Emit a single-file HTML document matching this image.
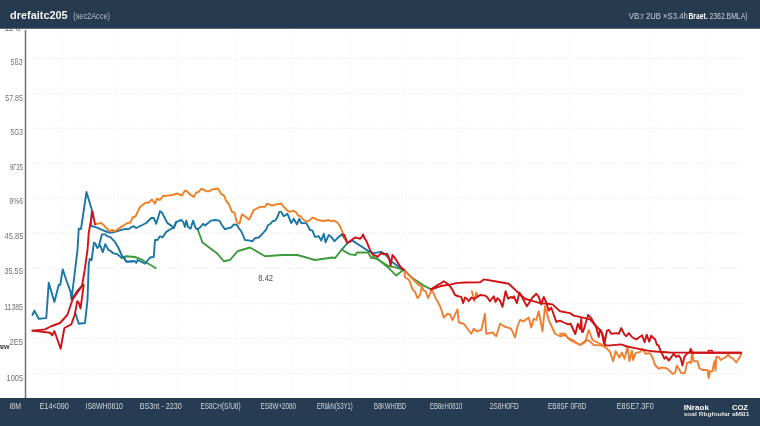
<!DOCTYPE html>
<html><head><meta charset="utf-8"><style>
html,body{margin:0;padding:0;background:#fff;width:760px;height:426px;overflow:hidden}
svg{display:block;will-change:transform}
text{font-family:"Liberation Sans",sans-serif}
.yl{font-size:8.8px;fill:#707070}
.xl{font-size:8.6px;fill:#d0d5da}
.t1{font-size:11.5px;font-weight:bold;fill:#f2f2f2}
.t2{font-size:9px;fill:#b8bec6}
.t3{font-size:8.5px;fill:#c9ced4}
.t3b{font-size:8.5px;font-weight:bold;fill:#ffffff}
.f1{font-size:8px;font-weight:bold;fill:#ffffff}
.f2{font-size:6px;font-weight:bold;fill:#e0e0e0}
.bw{font-size:6.5px;font-weight:bold;fill:#3a3a3a}
.lab{font-size:9.8px;fill:#4a4a4a}
</style></head><body>
<svg width="760" height="426" viewBox="0 0 760 426">
<rect x="0" y="0" width="760" height="426" fill="#ffffff"/>
<line x1="27" y1="58.7" x2="742" y2="58.7" stroke="#dadada" stroke-width="0.8" stroke-dasharray="1,2"/><line x1="27" y1="93.5" x2="742" y2="93.5" stroke="#dadada" stroke-width="0.8" stroke-dasharray="1,2"/><line x1="27" y1="128.3" x2="742" y2="128.3" stroke="#dadada" stroke-width="0.8" stroke-dasharray="1,2"/><line x1="27" y1="163" x2="742" y2="163" stroke="#dadada" stroke-width="0.8" stroke-dasharray="1,2"/><line x1="27" y1="198" x2="742" y2="198" stroke="#dadada" stroke-width="0.8" stroke-dasharray="1,2"/><line x1="27" y1="233" x2="742" y2="233" stroke="#dadada" stroke-width="0.8" stroke-dasharray="1,2"/><line x1="27" y1="268.5" x2="742" y2="268.5" stroke="#dadada" stroke-width="0.8" stroke-dasharray="1,2"/><line x1="27" y1="303.75" x2="742" y2="303.75" stroke="#dadada" stroke-width="0.8" stroke-dasharray="1,2"/><line x1="27" y1="338.5" x2="742" y2="338.5" stroke="#dadada" stroke-width="0.8" stroke-dasharray="1,2"/><line x1="27" y1="373.5" x2="742" y2="373.5" stroke="#dadada" stroke-width="0.8" stroke-dasharray="1,2"/><line x1="62.5" y1="28" x2="62.5" y2="398" stroke="#f0f0f0" stroke-width="0.8" stroke-dasharray="1,2"/><line x1="117.5" y1="28" x2="117.5" y2="398" stroke="#f0f0f0" stroke-width="0.8" stroke-dasharray="1,2"/><line x1="177.5" y1="28" x2="177.5" y2="398" stroke="#f0f0f0" stroke-width="0.8" stroke-dasharray="1,2"/><line x1="236" y1="28" x2="236" y2="398" stroke="#f0f0f0" stroke-width="0.8" stroke-dasharray="1,2"/><line x1="292.5" y1="28" x2="292.5" y2="398" stroke="#f0f0f0" stroke-width="0.8" stroke-dasharray="1,2"/><line x1="350" y1="28" x2="350" y2="398" stroke="#f0f0f0" stroke-width="0.8" stroke-dasharray="1,2"/><line x1="402.5" y1="28" x2="402.5" y2="398" stroke="#f0f0f0" stroke-width="0.8" stroke-dasharray="1,2"/><line x1="457.5" y1="28" x2="457.5" y2="398" stroke="#f0f0f0" stroke-width="0.8" stroke-dasharray="1,2"/><line x1="513" y1="28" x2="513" y2="398" stroke="#f0f0f0" stroke-width="0.8" stroke-dasharray="1,2"/><line x1="569.5" y1="28" x2="569.5" y2="398" stroke="#f0f0f0" stroke-width="0.8" stroke-dasharray="1,2"/><line x1="649.5" y1="28" x2="649.5" y2="398" stroke="#f0f0f0" stroke-width="0.8" stroke-dasharray="1,2"/><line x1="705.5" y1="28" x2="705.5" y2="398" stroke="#f0f0f0" stroke-width="0.8" stroke-dasharray="1,2"/>
<line x1="25.5" y1="30" x2="25.5" y2="398" stroke="#707070" stroke-width="1.5"/><text x="4.5" y="31" class="yl" textLength="16" lengthAdjust="spacingAndGlyphs">11  o</text>
<text x="10.6" y="64.8" textLength="12.000000000000002" lengthAdjust="spacingAndGlyphs" class="yl">5ß3</text><text x="5.3" y="100.7" textLength="17.5" lengthAdjust="spacingAndGlyphs" class="yl">57.85</text><text x="10.6" y="134.6" textLength="12.200000000000001" lengthAdjust="spacingAndGlyphs" class="yl">5G3</text><text x="9.9" y="169.9" textLength="13.1" lengthAdjust="spacingAndGlyphs" class="yl">9Γ25</text><text x="9.4" y="203.9" textLength="13.6" lengthAdjust="spacingAndGlyphs" class="yl">9%6</text><text x="4.6" y="239.4" textLength="18.700000000000003" lengthAdjust="spacingAndGlyphs" class="yl">45.85</text><text x="4.6" y="274.3" textLength="18.700000000000003" lengthAdjust="spacingAndGlyphs" class="yl">35.5S</text><text x="4.2" y="310" textLength="18.8" lengthAdjust="spacingAndGlyphs" class="yl">11385</text><text x="9.4" y="345" textLength="13.6" lengthAdjust="spacingAndGlyphs" class="yl">2E5</text><text x="6.6" y="380.6" textLength="16.4" lengthAdjust="spacingAndGlyphs" class="yl">1005</text>
<text x="0" y="348.6" textLength="9.4" lengthAdjust="spacingAndGlyphs" class="bw">ɐw</text>
<text x="258.3" y="281" textLength="14.8" lengthAdjust="spacingAndGlyphs" class="lab">8.42</text>
<polyline points="121.25,258 126.25,256.25 135,257 141.25,259.4 146.25,262.5 155.6,268" fill="none" stroke="#3d9b3d" stroke-width="1.9" stroke-linejoin="round" stroke-linecap="round" opacity="1.0"/><polyline points="197.5,228.75 202.5,242.5 217.5,253.75 223.75,261.25 230,260 237.5,251.25 250,247.5 265,256.25 282.5,255 297.5,255 315,260 332.5,257.5 335,258.1 341.9,249.4 344.4,251.25 350,254.4 355.6,255 356.9,252.5 368.1,252.5 371.25,258.1 373.1,258.1 377.5,258.75 387.5,266.9 396.25,275.6 403.75,269.4 412.5,278.1 423.75,285.6 431.25,289.4" fill="none" stroke="#3d9b3d" stroke-width="1.9" stroke-linejoin="round" stroke-linecap="round" opacity="1.0"/><polyline points="372.5,256.25 388.75,266.25 393.75,266.9 400,268.75 403.75,269.4" fill="none" stroke="#3d9b3d" stroke-width="1.9" stroke-linejoin="round" stroke-linecap="round" opacity="1.0"/><polyline points="341.9,249.4 347.5,243.1" fill="none" stroke="#2f8a6a" stroke-width="1.9" stroke-linejoin="round" stroke-linecap="round" opacity="1.0"/><polyline points="99.1,244.7 101.9,234.4 105.2,234.4 107.5,236.3 110.4,237.2 115,241.9 118.3,247.5 121.6,255 124.4,258.8 126.3,261.6 133,261.2" fill="none" stroke="#1a76a4" stroke-width="1.9" stroke-linejoin="round" stroke-linecap="round" opacity="1.0"/><polyline points="75.5,313.5 78.75,323.75 85,323 87.5,300 88.75,264.4 89.7,258.8 91.6,260.2 93.9,242.8 95.3,243.3 97.2,248 100,245.2 102.8,252.2 105.2,244.2 108.5,249.9 110.4,250.8 113.2,253.2 116.9,254.1 120.7,256.9 124.4,257.4 125,260 127.5,261.9 132.5,261.25 135,261.25 136.25,263 137.5,260 145,263.75 150,257.5 153.75,257 155,240 157.5,240 160,236.25 162.5,237.5 166.25,231.9 171.25,228.75 173.75,227.5 176.25,221.9" fill="none" stroke="#1a76a4" stroke-width="1.9" stroke-linejoin="round" stroke-linecap="round" opacity="1.0"/><polyline points="32.5,315 34.4,310.6 38.75,318.75 46.25,318.1 48.75,282.75 54.4,301.9 58.75,285 60.25,284.75 62.75,269.4 66.25,280 70.6,291.9 71.5,299.4 77.5,250 78.75,228.75 81,229 86.5,192 91.9,210 90.75,225.75 96.3,227.3 103.8,230.6 108.5,232.5 112.2,232.5 116,231.6 120.7,230.2 124.4,229.2 129.1,228.8 132,226.9 133.75,226.25 136.25,228 146.25,223 151.25,218 153.75,218 156.25,223.75 160,211.25 161.9,212.5 167.5,223.1 171.25,225.6 173.75,228.1 176.25,221.9 181.25,220 183.1,221.9 185,226.9 186.25,220.6 188.1,226.9 190.6,228.75 193.1,220.6 195.6,228.1 197.5,229.4 200,227.5 203.1,223.75 205,225.6 208.1,223.1 211.25,220.6 215,220 219.4,220.6 221.9,225 225,229.4 228.1,228.1 231.25,227.5 233.75,224.4 236.9,225 238.75,228.1 241.25,231.25 245,240 250,240.6 252.5,241.25 255,238.1 258.75,237.5 262.5,233.75 266.25,229.4 268.1,225 270.6,223.75 272.5,221.25 275,220.6 276.9,218.1 279.4,211.9 281.25,211.9 283.75,216.25 287.5,213.75 291.25,223.1 293.75,218.75 296.9,224.4 299.4,218.75 301.25,223.1 306.25,223.1 310,230 312.5,230.6 315,236.9 318.75,236.25 321.25,240.6 323.75,233.75 325.6,242.5 328.75,235 331.25,236.9 334.4,241.25 337.5,238.1 341.9,234.4 347.5,243 352.5,240.6 368.75,251.25 373.75,253.1 381.25,251.9 385,254 392,262 403.75,270" fill="none" stroke="#1a76a4" stroke-width="1.9" stroke-linejoin="round" stroke-linecap="round" opacity="1.0"/><polyline points="95,224.4 101.25,223 103,224.4 109.4,231.25 111.9,230 115,231.25 121.25,226.9 127.5,223 130.6,222.5 132.5,217.5 135.6,216.25 140,206.9 145,203 148.75,202.5 151.9,199.4 155,203.75 156.9,198.75 160,200 162.5,196.25 167.5,195.6 172.5,195 176.9,193.5 181.9,195.6 185,190.6 186.9,191.25 190,194.4 193.75,196.9 196.25,192.5 198.75,191.9 201.25,188.75 203.1,189.4 206.25,191.25 209.4,191.25 212.5,189.4 217.5,188.5 218.75,189.4 221.25,194.4 223.75,195 226.25,201.25 228.75,203.75 231.9,211.9 234.4,212.5 236.9,222.5 239.4,223.75 241.9,214.4 245,216.25 248.75,219.4 250,218.1 253.75,210 256.25,208.75 260,206.9 265,206.9 266.9,203.75 269.4,204.4 271.9,205.6 273.75,205 276.25,204.4 281.25,203.5 283.75,206.9 287.5,210.6 290,211.9 293.1,210.6 296.25,212.5 298.1,215.6 300.6,216.25 303.75,220 306.9,221.9 310,220 312.5,217.75 314.4,218.1 317.5,220 323.75,221 328.75,220 331.25,221.25 333.75,220.6 337.5,222.5 340,226.25 343.1,233.75 346.25,241.25" fill="none" stroke="#ef7f22" stroke-width="1.9" stroke-linejoin="round" stroke-linecap="round" opacity="1.0"/><polyline points="404.4,270.6 405,277.5 407.5,278.75 409.4,280.6 412.5,289.4 415,291.9 417.5,298.1 420,295 421.9,286.9 423.75,290.6 425.6,291.25 428.1,298.1 431.9,289.4 433.75,293.75 435.6,298.1 438.1,302.5 440.6,307.5 443.75,317.5 447.5,313.75 450,314.4 452.5,320 457.5,309.4 458.75,322.5 463.75,323.75 467.5,328.75 471.25,333.75 473.75,328.75 476.25,331.25 481.25,330 485,313.75 486.25,333.75 492.5,332.5 496.25,336.25 500,323.75 503.75,326.25 511.25,328.75 515,337.5 517.5,326.25 520,320 523.75,321.25 528.75,317.5 531.25,327.5 533.75,318.75 536.25,320 538.75,311.25 542.5,331.25 545,306.25 548.75,320 555,333.75 560,336.25 565,335 570,340 580,345 585,342.5 588.75,330 592.5,340 600,343.75 606.25,348.1 610,351.9 613.1,361.25 615.6,351.25 619.4,357.5 621.9,352.5 624.4,358.75 627.5,346.9 629.4,361.25 631.9,350.6 633.1,360 635.6,353.1 640,351.9 642.5,348.75 645.6,353.75 650,353.1 652.5,357.5 655,365 658.75,368.75 661.25,367.5 666.25,368.1 668.75,370 672.5,373.75 675,373.1 676.9,365.6 681.25,373.1 685,373.1 686.9,363.1 689.4,361.9 691,363.1 692.2,351 693.5,361.25 697.5,361.25 699.4,368.1 702.5,370 707.5,370 708.75,378.1 710,371.25 712.5,371.25 714.4,361.25 715.6,370.6 716.25,356.9 718.75,356.9 720.6,360 722.5,358.75 726.25,356.9 728.1,354.4 730,356.9 733.1,358.75 736.25,362.5 741.25,354.4" fill="none" stroke="#f07e32" stroke-width="1.9" stroke-linejoin="round" stroke-linecap="round" opacity="1.0"/><polyline points="560,333.75 565,333.75 567.5,337.5 572.5,340 580,345 586.25,340 588.75,340.6 593.75,345 603.75,345.6" fill="none" stroke="#f07e32" stroke-width="1.9" stroke-linejoin="round" stroke-linecap="round" opacity="1.0"/><polyline points="404.4,270.6 413.75,280 418.75,285 421.9,286.9" fill="none" stroke="#f07e32" stroke-width="1.9" stroke-linejoin="round" stroke-linecap="round" opacity="1.0"/><polyline points="471.9,291.25 474.4,301.25 476.25,292.5 478,297" fill="none" stroke="#f07e32" stroke-width="1.9" stroke-linejoin="round" stroke-linecap="round" opacity="1.0"/><polyline points="431.25,289.4 441,286 451.25,284.4 456.25,283.1 465,282.5 480,282.25 483.75,279.4 495,281.25 508.75,283.75 518.75,293.1 525,298.75 531.25,300.6 540,303.1 547.5,303.75 552.5,304.4 560,311.25 570,313.1 573.75,315.6 585,318.1 590,319.4 596.25,326.25 601.25,331.25 603.75,337.5 605,345 607.5,345.6 621.25,344.4 626.25,346.25 635,348.1 647.5,350.6 655,351.5 670,352.5 741.25,352.75" fill="none" stroke="#d11214" stroke-width="1.9" stroke-linejoin="round" stroke-linecap="round" opacity="1.0"/><polyline points="431.25,289.4 437.5,285 441.25,283.1 443.75,281.25 447.5,283.75 450.6,286.9 452.5,290 455,295 458.1,296.25 461.25,296.9 463.1,303.1 465,297.5 466.9,298.75 468.75,301.25 471.25,297.5 474,299 480,295 485,295.6 487.5,297.5 490,301.25 493.75,296.25 495.6,301.9 497.5,298.1 500,300.6 502.5,306.9 505.6,291.25 508.1,298.75 510.6,296.9 512.5,298.1 513.75,296.25 516.9,303.1 519.4,292.5 522.5,298.1 526.9,306.25 532.5,297.5 536.25,293.75 538.75,296.9 541.25,304.4 543.75,296.9 546.25,302.5 548.75,310.6 551.25,307.5 556.25,321.9 560,320.6 563.75,322.5 568,324.4 570.6,323.75 572.5,328 575.3,334 577.8,323.75 580,329 581.25,318.75 581.9,331.9 583,331.9 588.1,315 591.25,318.1 596.25,327.5 598.75,336.9 600,330 601.9,333.1 603.75,342.5 604.4,343.75 606.9,330.6 608.75,330 611.25,333.75 616.25,333.1 618.75,333.75 621.25,328.1 624.4,334.4 626.25,336.25 628.75,333.1 632.5,337.5 636.25,339.4 638.1,338.1 640,336.7 642.1,335.3 644.6,342.3 646.7,334.6 649.2,341.6 651.3,335.6 652.7,337.4 655.1,339.2 656.9,344.8 658.3,345.1 660.8,351.1 663.9,357.5 664.4,358.75 666.25,356.9 668.75,360.6 673.75,353.75 676.25,356.9 678.75,355.6 680.6,358.1 682.5,365.6 684.4,356.9 686.9,353.75 689.4,352.5 690.6,348.75 691.9,352.75 741.25,352.75" fill="none" stroke="#d11214" stroke-width="1.9" stroke-linejoin="round" stroke-linecap="round" opacity="1.0"/><polyline points="32.5,330.6 45,329.4 51.25,326.25 60,323 67.3,315 72.6,299.5 82,286 84.7,270 87.5,250 88.75,233 92.5,211.5 95,224.4" fill="none" stroke="#d11214" stroke-width="1.9" stroke-linejoin="round" stroke-linecap="round" opacity="1.0"/><polyline points="32.5,330.6 50,332.75 52.25,335.25 54.4,331 60.6,348.75 64.4,328 71.25,324.4 74.7,315 77.3,301.2 78.9,302.8 80.5,308.6 81.6,300.7 83.7,284.8" fill="none" stroke="#d11214" stroke-width="1.9" stroke-linejoin="round" stroke-linecap="round" opacity="1.0"/><polyline points="72,298.5 76.5,291.5 82,285.3" fill="none" stroke="#7a2020" stroke-width="1.2" stroke-linejoin="round" stroke-linecap="round" opacity="1.0"/><polyline points="341.9,234.4 344.4,235 347.5,243.1 355,237.5 358.1,238.1 360,238.75 361.9,236.9 363.1,234.4 364.4,238.1 366.25,240.6 368.75,246.9 370.6,251.25 372.5,254.4 375.6,255.6 377.5,256.9 381.25,253.1 383.75,254.4 386.9,253.75 388.75,256.9 390.6,265.6 392.5,255 395,258.1 400,266.25 403.75,270" fill="none" stroke="#d11214" stroke-width="1.9" stroke-linejoin="round" stroke-linecap="round" opacity="1.0"/><polyline points="708,353 708.5,350.5 712,350.5 712.5,353" fill="none" stroke="#d11214" stroke-width="1.6" stroke-linejoin="round" stroke-linecap="round" opacity="1.0"/>
<rect x="0" y="0" width="760" height="28.5" fill="#273b50"/><rect x="0" y="25.5" width="760" height="3" fill="#223a52"/>
<rect x="0" y="398" width="760" height="28" fill="#253c52"/>
<text x="10" y="19.2" textLength="57.7" lengthAdjust="spacingAndGlyphs" class="t1">drefaitc205</text>
<text x="73.2" y="19.2" textLength="36.8" lengthAdjust="spacingAndGlyphs" class="t2">(sec2Acce)</text>
<text x="628.8" y="18.8" textLength="59" lengthAdjust="spacingAndGlyphs" class="t3">VB:r 2UB ×S3.4h</text>
<text x="688.5" y="18.8" textLength="19" lengthAdjust="spacingAndGlyphs" class="t3b">Braet.</text>
<text x="709.5" y="18.8" textLength="38" lengthAdjust="spacingAndGlyphs" class="t3">2362.BMLA)</text>
<text x="9.4" y="409" textLength="11.499999999999998" lengthAdjust="spacingAndGlyphs" class="xl">I8M</text><text x="39.7" y="409" textLength="29.200000000000003" lengthAdjust="spacingAndGlyphs" class="xl">E14&lt;090</text><text x="85.5" y="409" textLength="37.5" lengthAdjust="spacingAndGlyphs" class="xl">IS8WH0810</text><text x="139.7" y="409" textLength="42.20000000000002" lengthAdjust="spacingAndGlyphs" class="xl">BS3nt - 2230</text><text x="200.4" y="409" textLength="40.19999999999999" lengthAdjust="spacingAndGlyphs" class="xl">ES8CH(S/U8)</text><text x="260.5" y="409" textLength="35.60000000000002" lengthAdjust="spacingAndGlyphs" class="xl">ES8W+2080</text><text x="317" y="409" textLength="35.60000000000002" lengthAdjust="spacingAndGlyphs" class="xl">ERäkN(S3Y1)</text><text x="374" y="409" textLength="32" lengthAdjust="spacingAndGlyphs" class="xl">B8KWH0BD</text><text x="429.9" y="409" textLength="32.400000000000034" lengthAdjust="spacingAndGlyphs" class="xl">EB8eH0810</text><text x="489.7" y="409" textLength="29.000000000000057" lengthAdjust="spacingAndGlyphs" class="xl">2S8H0FD</text><text x="548" y="409" textLength="38.299999999999955" lengthAdjust="spacingAndGlyphs" class="xl">EB8SF 0F8D</text><text x="616.8" y="409" textLength="36.90000000000009" lengthAdjust="spacingAndGlyphs" class="xl">E8SE7.3F0</text>
<text x="683.7" y="409.7" textLength="25.3" lengthAdjust="spacingAndGlyphs" class="f1">INraok</text>
<text x="732" y="409.7" textLength="16" lengthAdjust="spacingAndGlyphs" class="f1">COZ</text>
<text x="683.7" y="416.3" textLength="65.8" lengthAdjust="spacingAndGlyphs" class="f2">soal Rbgfoufar aMB1</text>
</svg>
</body></html>
